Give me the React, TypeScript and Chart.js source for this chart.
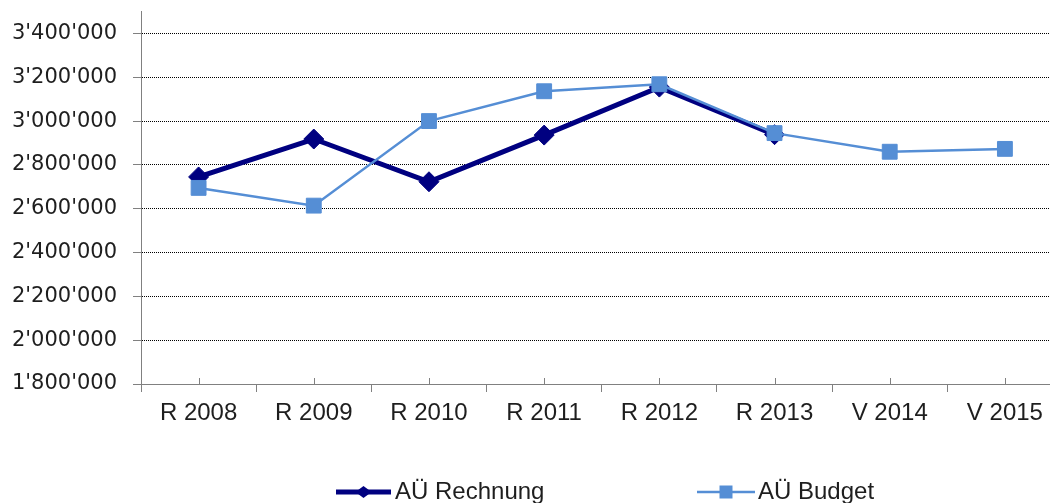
import React, { useEffect, useRef } from "react";
import { Chart, registerables } from "chart.js";

Chart.register(...registerables);

const categories = ["R 2008", "R 2009", "R 2010", "R 2011", "R 2012", "R 2013", "V 2014", "V 2015"];
const rechnung: (number | null)[] = [2745000, 2918000, 2723000, 2936000, 3155000, 2938000, null, null];
const budget: number[] = [2695000, 2614000, 3000000, 3136000, 3168000, 2945000, 2860000, 2873000];
const yTickValues = [1800000, 2000000, 2200000, 2400000, 2600000, 2800000, 3000000, 3200000, 3400000];
const seriesLabels = ["AÜ Rechnung", "AÜ Budget"];

const NAVY = "#000080";
const BLUE = "#558ED5";
const TEXT = "#1e1e1e";
const AXIS = "#808080";

const fmt = (v: number) => String(Math.round(v)).replace(/\B(?=(\d{3})+(?!\d))/g, "'");

const upTicks = {
  id: "upTicks",
  afterDraw(chart: any) {
    const x = chart.scales.x;
    const bottom = chart.chartArea.bottom;
    const ctx = chart.ctx;
    ctx.save();
    ctx.strokeStyle = AXIS;
    ctx.lineWidth = 1;
    ctx.beginPath();
    for (let i = 0; i < x.ticks.length; i++) {
      const px = Math.round(x.getPixelForTick(i)) + 0.5;
      ctx.moveTo(px, bottom - 6);
      ctx.lineTo(px, bottom);
    }
    ctx.stroke();
    ctx.restore();
  },
};

const customLegend = {
  id: "customLegend",
  afterDraw(chart: any) {
    const ctx = chart.ctx;
    const ds = chart.data.datasets;
    const items = [
      { x0: 336, x1: 391, tx: 395, idx: 0 },
      { x0: 697, x1: 755, tx: 758, idx: 1 },
    ];
    const y = 492;
    ctx.save();
    items.forEach((it) => {
      const d = ds[it.idx];
      ctx.strokeStyle = d.borderColor;
      ctx.lineWidth = d.borderWidth;
      ctx.beginPath();
      ctx.moveTo(it.x0, y);
      ctx.lineTo(it.x1, y);
      ctx.stroke();
      const cx = (it.x0 + it.x1) / 2;
      ctx.fillStyle = d.pointBackgroundColor;
      ctx.beginPath();
      if (d.pointStyle === "rectRot") {
        ctx.moveTo(cx - 8, y);
        ctx.lineTo(cx, y - 6);
        ctx.lineTo(cx + 8, y);
        ctx.lineTo(cx, y + 6);
        ctx.closePath();
      } else {
        ctx.rect(cx - 6.5, y - 6.5, 13, 13);
      }
      ctx.fill();
      ctx.fillStyle = TEXT;
      ctx.font = '24px "Liberation Sans", Arial, sans-serif';
      ctx.textBaseline = "middle";
      ctx.textAlign = "left";
      ctx.fillText(d.label, it.tx, y);
    });
    ctx.restore();
  },
};

const CANVAS_W = 1074;

export default function App() {
  const ref = useRef<HTMLCanvasElement | null>(null);

  useEffect(() => {
    if (!ref.current) return;
    const chart = new Chart(ref.current, {
      type: "line",
      data: {
        labels: categories,
        datasets: [
          {
            label: seriesLabels[0],
            data: rechnung,
            borderColor: NAVY,
            backgroundColor: NAVY,
            borderWidth: 5,
            pointStyle: "rectRot",
            pointRadius: 10,
            pointBackgroundColor: NAVY,
            pointBorderColor: NAVY,
            pointBorderWidth: 1,
            tension: 0,
            order: 1,
          },
          {
            label: seriesLabels[1],
            data: budget,
            borderColor: BLUE,
            backgroundColor: BLUE,
            borderWidth: 2.5,
            pointStyle: "rect",
            pointRadius: 10.5,
            pointBackgroundColor: BLUE,
            pointBorderColor: BLUE,
            pointBorderWidth: 1,
            tension: 0,
            order: 0,
          },
        ] as any,
      },
      options: {
        animation: false,
        responsive: false,
        maintainAspectRatio: false,
        devicePixelRatio: 1,
        layout: { padding: { top: 11, right: 1, bottom: 0, left: 0 } },
        plugins: {
          legend: { display: false },
          tooltip: { enabled: false },
        },
        scales: {
          x: {
            type: "category",
            offset: true,
            grid: {
              display: true,
              offset: true,
              drawOnChartArea: false,
              drawTicks: true,
              tickLength: 8,
              tickColor: AXIS,
              color: AXIS,
            },
            border: { display: true, color: AXIS, width: 1 },
            ticks: {
              color: TEXT,
              font: { family: '"Liberation Sans", Arial, sans-serif', size: 24 },
              padding: 7,
              maxRotation: 0,
              autoSkip: false,
            },
            afterFit(scale: any) {
              scale.height = 119;
              scale.paddingLeft = 0;
              scale.paddingRight = 0;
            },
          },
          y: {
            type: "linear",
            min: 1800000,
            max: 3500000,
            afterBuildTicks(scale: any) {
              scale.ticks = yTickValues.map((v) => ({ value: v }));
            },
            afterFit(scale: any) {
              scale.width = 141;
              scale.paddingTop = 0;
              scale.paddingBottom = 0;
            },
            grid: {
              color: "#000000",
              lineWidth: 1,
              drawTicks: true,
              tickLength: 8,
              tickColor: AXIS,
              tickBorderDash: [],
            },
            border: { display: true, color: AXIS, width: 1, dash: [1, 1] },
            ticks: {
              color: TEXT,
              font: { family: '"DejaVu Sans", sans-serif', size: 21, lineHeight: 1 },
              padding: 16,
              callback: (v: any) => fmt(Number(v)),
            },
          },
        },
      },
      plugins: [upTicks, customLegend],
    });
    return () => chart.destroy();
  }, []);

  return (
    <div style={{ position: "fixed", left: 0, top: 0, width: 1050, height: 503, overflow: "hidden", background: "#fff" }}>
      <canvas ref={ref} width={CANVAS_W} height={503} style={{ display: "block", width: CANVAS_W, height: 503 }} />
    </div>
  );
}
